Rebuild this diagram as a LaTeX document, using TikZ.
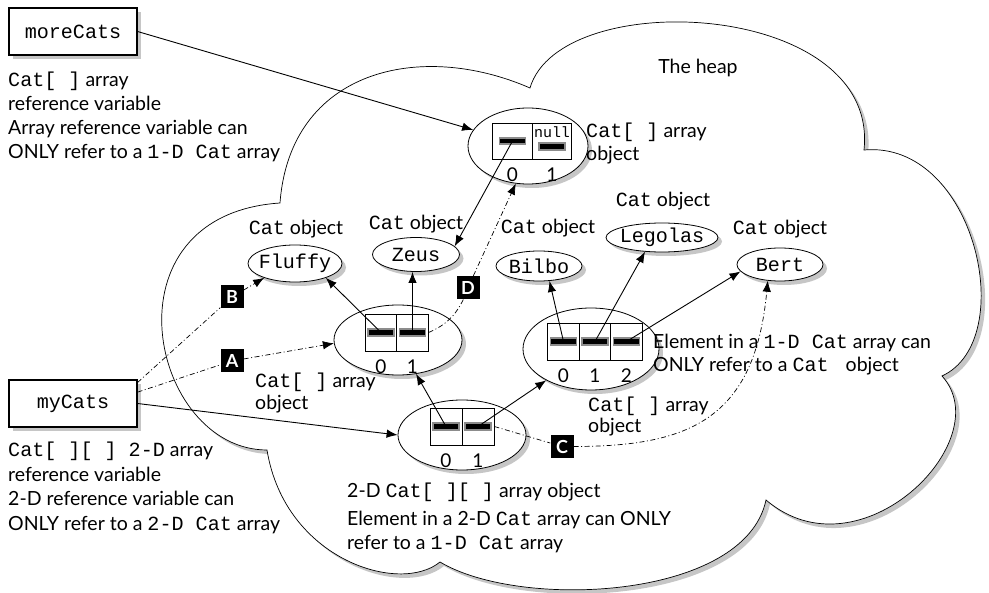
\documentclass[tikz,border=0pt]{standalone}
\usepackage{fontspec}
\setmainfont{Lato}
\setmonofont{Liberation Mono}[Scale=1.03]
\usetikzlibrary{arrows.meta,shapes.geometric,shadows,positioning}
\definecolor{shadegrey}{HTML}{C6C6C6}
\definecolor{rimgrey}{HTML}{8C8C8C}

\tikzset{
  heapshadow/.style={general shadow={fill=shadegrey, shadow xshift=4pt, shadow yshift=-4pt}},
  note/.style={anchor=base west, inner sep=0pt, font=\fontsize{19.5}{24}\selectfont},
  varbox/.style={draw, fill=white, line width=1.1pt, minimum width=128pt, minimum height=47pt,
    inner sep=0pt, heapshadow, font=\fontsize{19.5}{23}\selectfont\ttfamily},
  catobj/.style={ellipse, draw, fill=white, line width=0.8pt, inner xsep=-3pt, inner ysep=0pt,
    heapshadow, font=\fontsize{19.5}{23}\selectfont\ttfamily},
  arrobj/.style={ellipse, draw, fill=white, line width=0.8pt, inner sep=0pt, heapshadow},
  arrcell/.style={draw, fill=white, line width=0.8pt, inner sep=0pt, minimum height=37pt},
  cellbar/.style={fill=black, draw=rimgrey, line width=1.6pt, minimum width=26pt,
    minimum height=6.5pt, inner sep=0pt},
  idxlbl/.style={inner sep=0pt, font=\fontsize{19}{24}\selectfont},
  lettertag/.style={fill=black, text=white, minimum size=23pt, inner sep=0pt,
    font=\fontsize{18}{20}\selectfont\bfseries},
  refarrow/.style={line width=0.9pt, -{Latex[length=11pt,width=8.5pt]}},
  hopline/.style={line width=0.7pt, dash pattern=on 5pt off 2.5pt on 1pt off 2.5pt},
  hoparrow/.style={hopline, -{Latex[length=11pt,width=8.5pt]}}
}

\begin{document}
\begin{tikzpicture}[x=1pt, y=-1pt]
  \useasboundingbox (0,0) rectangle (989,593);
  % the heap
  \draw[fill=white, line width=0.7pt, heapshadow]
    (280,203) .. controls (290,70) and (420,40) .. (530,88)
    .. controls (560,-15) and (880,0) .. (864,150)
    .. controls (975,140) and (1020,340) .. (942,376)
    .. controls (1000,440) and (860,580) .. (766,500)
    .. controls (745,600) and (520,610) .. (440,562)
    .. controls (400,595) and (285,560) .. (267,450)
    .. controls (150,450) and (100,215) .. (280,203) -- cycle;
  \node[note, anchor=base] (heapLbl) at (698,74) {The heap};

  % reference variables
  \node[varbox] (moreCats) at (73,31.5) {moreCats};
  \node[varbox] (myCats) at (73,403.5) {myCats};
  \foreach \txt [count=\k from 0] in {{\texttt{Cat[ ]} array}, reference variable,
      Array reference variable can, {ONLY refer to a \texttt{1-D Cat} array}}
    \node[note] (moreNote\k) at (8,{87+24*\k}) {\txt};
  \foreach \txt [count=\k from 0] in {{\texttt{Cat[ ][ ] 2-D} array}, reference variable,
      2-D reference variable can, {ONLY refer to a \texttt{2-D Cat} array}}
    \node[note] (myNote\k) at (8,{457+24.5*\k}) {\txt};

  % Cat objects
  \foreach \nm/\x/\y/\w/\h in {Fluffy/295/263.5/94pt/37pt, Zeus/416/254.5/87pt/34pt,
      Bilbo/539/266/86pt/30pt, Legolas/662/237.5/112pt/29pt, Bert/780/264.5/86pt/33pt}
    \node[catobj, minimum width=\w, minimum height=\h] (\nm) at (\x,\y) {\nm};
  \foreach \nm/\x/\y in {Fluffy/296/235, Zeus/416/230, Bilbo/548/234,
      Legolas/663/207, Bert/780/235}
    \node[note, anchor=base] (\nm Lbl) at (\x,\y) {\texttt{Cat} object};

  % array objects
  \node[arrobj, minimum width=120pt, minimum height=76pt] (topArr) at (528,146) {};
  \node[arrobj, minimum width=128pt, minimum height=70pt] (leftArr) at (398,340) {};
  \node[arrobj, minimum width=136pt, minimum height=82pt] (rightArr) at (591,349) {};
  \node[arrobj, minimum width=128pt, minimum height=70pt] (gridArr) at (462,435) {};

  \foreach \i/\x in {0/512.5, 1/552}
    \node[arrcell, minimum width=39.5pt, minimum height=36pt] (top\i) at (\x,141) {};
  \foreach \i/\x in {0/381, 1/412.5}
    \node[arrcell, minimum width=31.5pt] (left\i) at (\x,332.5) {};
  \foreach \i/\x in {0/563.5, 1/595, 2/626.5}
    \node[arrcell, minimum width=31.5pt] (right\i) at (\x,341.5) {};
  \foreach \i/\x in {0/446, 1/478}
    \node[arrcell, minimum width=32pt] (grid\i) at (\x,426.5) {};

  \foreach \c in {top0, left0, left1, right0, right1, right2, grid0, grid1}
    \node[cellbar] (\c bar) at (\c) {};
  \node[cellbar] (top1bar) at ([yshift=-5.5pt]top1.center) {};
  \node[inner sep=0pt, font=\fontsize{14.5}{15}\selectfont\ttfamily] (nullLbl)
    at ([yshift=8.5pt]top1.center) {null};

  \foreach \c/\d in {top0/0, top1/1, left0/0, left1/1, right0/0, right1/1, right2/2,
      grid0/0, grid1/1}
    \node[idxlbl, below=8pt of \c] (\c idx) {\d};

  \foreach \nm/\x/\y/\txt in {
      topArrA/586/138/{\texttt{Cat[ ]} array}, topArrB/586/161/object,
      leftArrA/255/388/{\texttt{Cat[ ]} array}, leftArrB/255/410/object,
      rightArrA/588/412/{\texttt{Cat[ ]} array}, rightArrB/588/433/object,
      elemA/653/349/{Element in a \texttt{1-D Cat} array can},
      elemB/653/372/{ONLY refer to a \texttt{Cat } object},
      gridA/347/498/{2-D \texttt{Cat[ ][ ]} array object},
      gridB/347/526/{Element in a 2-D \texttt{Cat} array can ONLY},
      gridC/347/550/{refer to a \texttt{1-D Cat} array}}
    \node[note] (\nm) at (\x,\y) {\txt};

  % references
  \draw[refarrow] (moreCats.east) -- (topArr);
  \draw[refarrow] (myCats.east) -- (gridArr.west);
  \draw[refarrow] (top0bar.center) -- (Zeus.12);
  \draw[refarrow] (left0bar.center) -- (Fluffy.-25);
  \draw[refarrow] (left1bar.center) -- (left1bar |- Zeus.south);
  \draw[refarrow] (right0bar.center) -- (Bilbo.-55);
  \draw[refarrow] (right1bar.center) -- (Legolas.-140);
  \draw[refarrow] (right2bar.center) -- (Bert.190);
  \draw[refarrow] (grid0bar.center) -- (leftArr.-62);
  \draw[refarrow] (grid1bar.center) -- (rightArr.215);

  % the lettered paths
  \node[lettertag] (tagA) at (232,361) {A};
  \node[lettertag] (tagB) at (232,297) {B};
  \node[lettertag] (tagC) at (562,446.5) {C};
  \node[lettertag] (tagD) at (468,287.5) {D};
  \draw[hopline] (myCats.18) -- (tagB);
  \draw[hoparrow] (tagB) -- (Fluffy.205);
  \draw[hopline] (myCats.10) -- (tagA);
  \draw[hoparrow] (tagA) -- (leftArr.183);
  \draw[hopline] (left1.east) to[bend right=20] (tagD);
  \draw[hoparrow] (tagD) -- (topArr.-108);
  \draw[hopline] (grid1.east) -- (tagC);
  \draw[hoparrow] (tagC) .. controls +(128,0) and +(-13,138) .. (Bert.-127);
\end{tikzpicture}
\end{document}
